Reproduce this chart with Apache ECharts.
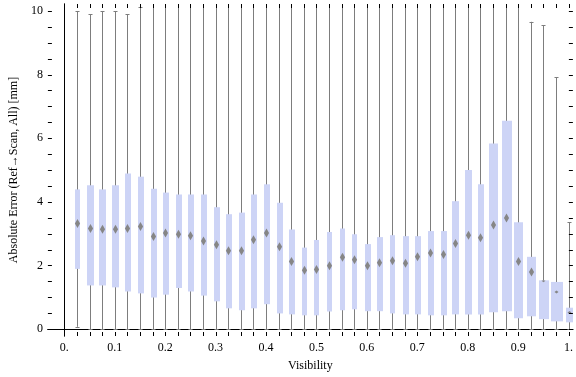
<!DOCTYPE html>
<html>
<head>
<meta charset="utf-8">
<script src="https://cdn.jsdelivr.net/npm/echarts@6.0.0/dist/echarts.min.js"></script>
<style>
  html, body { margin: 0; padding: 0; background: #fff; }
  #chart { width: 576px; height: 377px; }
</style>
</head>
<body>
<div id="chart"></div>
<script>
// visibility bins (box centres)
const visibility = [
  0.025, 0.05, 0.075, 0.1, 0.125, 0.15, 0.175, 0.2, 0.225, 0.25,
  0.275, 0.3, 0.325, 0.35, 0.375, 0.4, 0.425, 0.45, 0.475, 0.5,
  0.525, 0.55, 0.575, 0.6, 0.625, 0.65, 0.675, 0.7, 0.725, 0.75,
  0.775, 0.8, 0.825, 0.85, 0.875, 0.9, 0.925, 0.95, 0.975, 1.0
];
const whiskerLow = [
  0.07, 0, 0, 0, 0, 0, 0, 0, 0, 0,
  0, 0, 0, 0, 0, 0, 0, 0, 0, 0,
  0, 0, 0, 0, 0, 0, 0, 0, 0, 0,
  0, 0, 0, 0, 0, 0, 0, 0, 0, 0
];
const quartile1 = [
  1.89, 1.37, 1.37, 1.31, 1.18, 1.12, 0.99, 1.08, 1.29, 1.18,
  1.05, 0.87, 0.65, 0.59, 0.65, 0.78, 0.49, 0.46, 0.43, 0.43,
  0.55, 0.59, 0.62, 0.56, 0.56, 0.49, 0.46, 0.46, 0.43, 0.43,
  0.46, 0.46, 0.46, 0.53, 0.56, 0.34, 0.40, 0.31, 0.24, 0.21
];
const median = [
  3.32, 3.16, 3.14, 3.14, 3.16, 3.22, 2.91, 3.02, 2.98, 2.93,
  2.77, 2.65, 2.46, 2.46, 2.81, 3.02, 2.59, 2.12, 1.85, 1.87,
  1.99, 2.26, 2.18, 1.99, 2.08, 2.15, 2.07, 2.27, 2.39, 2.34,
  2.69, 2.95, 2.87, 3.27, 3.49, 2.12, 1.79, 1.52, 1.16, 0.52
];
const quartile3 = [
  4.39, 4.52, 4.39, 4.52, 4.89, 4.79, 4.41, 4.29, 4.23, 4.23,
  4.23, 3.83, 3.61, 3.66, 4.23, 4.55, 3.97, 3.13, 2.56, 2.80,
  3.05, 3.16, 2.98, 2.67, 2.89, 2.95, 2.92, 2.92, 3.08, 3.08,
  4.02, 5.00, 4.55, 5.83, 6.55, 3.36, 2.27, 1.53, 1.48, 0.67
];
// upper whiskers above 10.2 run off the top of the frame
const whiskerHigh = [
  10.0, 9.9, 10.0, 10.0, 9.9, 10.12, 10.5, 10.5, 10.5, 10.5,
  10.5, 10.5, 10.5, 10.5, 10.5, 10.5, 10.5, 10.5, 10.5, 10.5,
  10.5, 10.5, 10.5, 10.5, 10.5, 10.5, 10.5, 10.5, 10.5, 10.5,
  10.5, 10.5, 10.5, 10.5, 10.5, 10.5, 9.66, 9.55, 7.91, 3.36
];

const xTickLabels = [0, 0.1, 0.2, 0.3, 0.4, 0.5, 0.6, 0.7, 0.8, 0.9, 1];
const yTickLabels = [0, 2, 4, 6, 8, 10];

// drawing widths of the boxes in px (styling only)
const boxWidthPx = [
  5, 7, 7, 7, 6, 6, 6, 6, 6, 6,
  6, 6, 6, 6, 6, 6, 6, 6, 5, 5,
  5, 5, 5, 6, 6, 5, 6, 6, 6, 6,
  7, 7, 6, 9, 10, 9, 9, 10, 12, 7
];

const X_MIN = -0.0325, X_MAX = 1.0085;
const Y_MIN = -0.22, Y_MAX = 10.22;

const xFrameTicks = [];
for (let i = 0; i <= 40; i++) xFrameTicks.push(+(i * 0.025).toFixed(3));
const yFrameTicks = [];
for (let i = 0; i <= 20; i++) yFrameTicks.push(i * 0.5);

const boxData = visibility.map((v, i) =>
  [v, whiskerLow[i], quartile1[i], median[i], quartile3[i], whiskerHigh[i], i]);
// [value, kind] kind 0 = x tick, 1 = y tick
const tickData = xFrameTicks.map(v => [v, 0]).concat(yFrameTicks.map(v => [v, 1]));

const font = 'Liberation Serif';
const frameColor = '#000';
const whiskerColor = '#7d7d7d';
const boxColor = '#cdd4f6';
const dotColor = '#868686';
const TICK_LEN = 4;

function renderBox(params, api) {
  const x = api.value(0);
  const lo = api.value(1), q1 = api.value(2), md = api.value(3), q3 = api.value(4), hi = api.value(5);
  const idx = api.value(6);
  const cx = Math.round(api.coord([x, 0])[0]) + 0.5;
  const yLo = api.coord([x, lo])[1];
  const yHi = api.coord([x, Math.min(hi, Y_MAX)])[1];
  const yQ1 = api.coord([x, q1])[1];
  const yQ3 = api.coord([x, q3])[1];
  const yMd = api.coord([x, md])[1];
  const w = boxWidthPx[idx];
  const children = [];
  const lineStyle = { stroke: whiskerColor, lineWidth: 1 };
  children.push({ type: 'line', shape: { x1: cx, y1: yLo, x2: cx, y2: yHi }, style: lineStyle });
  children.push({ type: 'line', shape: { x1: cx - 2, y1: Math.round(yLo) + 0.5, x2: cx + 2, y2: Math.round(yLo) + 0.5 }, style: lineStyle });
  if (hi <= Y_MAX) {
    children.push({ type: 'line', shape: { x1: cx - 2, y1: Math.round(yHi) + 0.5, x2: cx + 2, y2: Math.round(yHi) + 0.5 }, style: lineStyle });
  }
  const left = Math.round(cx - w / 2);
  children.push({
    type: 'rect',
    shape: { x: left, y: yQ3, width: w, height: yQ1 - yQ3 },
    style: { fill: boxColor }
  });
  // diamond at the median, kept inside the box
  const dh = idx >= 37 ? 1.5 : 4.5;
  const dw = idx >= 37 ? 2 : 2.6;
  const top = Math.max(yMd - dh, yQ3);
  const bot = Math.min(yMd + dh, yQ1);
  children.push({
    type: 'polygon',
    shape: { points: [[cx, top], [cx + dw, yMd], [cx, bot], [cx - dw, yMd]] },
    style: { fill: dotColor }
  });
  return { type: 'group', children: children };
}

// inward-pointing frame ticks on all four sides
function renderTick(params, api) {
  const v = api.value(0);
  const kind = api.value(1);
  const st = { stroke: frameColor, lineWidth: 1 };
  if (kind === 0) {
    const px = Math.round(api.coord([v, Y_MIN])[0]) + 0.5;
    const yb = api.coord([v, Y_MIN])[1];
    const yt = api.coord([v, Y_MAX])[1];
    return { type: 'group', children: [
      { type: 'line', shape: { x1: px, y1: yb, x2: px, y2: yb - TICK_LEN }, style: st },
      { type: 'line', shape: { x1: px, y1: yt, x2: px, y2: yt + TICK_LEN }, style: st }
    ] };
  }
  const py = Math.round(api.coord([X_MIN, v])[1]) + 0.5;
  const xl = api.coord([X_MIN, v])[0];
  const xr = api.coord([X_MAX, v])[0];
  return { type: 'group', children: [
    { type: 'line', shape: { x1: xl, y1: py, x2: xl + TICK_LEN, y2: py }, style: st },
    { type: 'line', shape: { x1: xr, y1: py, x2: xr - TICK_LEN, y2: py }, style: st }
  ] };
}

const chart = echarts.init(document.getElementById('chart'), null, { renderer: 'canvas' });

const lineStyleFrame = { show: true, lineStyle: { color: frameColor, width: 1 } };

chart.setOption({
  animation: false,
  backgroundColor: '#fff',
  grid: { left: 37, right: 1, top: 4, bottom: 40 },
  xAxis: [
    {
      type: 'value', position: 'bottom', min: X_MIN, max: X_MAX,
      name: 'Visibility', nameLocation: 'middle', nameGap: 24,
      nameTextStyle: { fontFamily: font, fontSize: 12, color: '#000' },
      axisLine: lineStyleFrame,
      axisTick: { show: false },
      axisLabel: {
        customValues: xTickLabels, margin: 6,
        fontFamily: font, fontSize: 12, color: '#000',
        formatter: v => (v === 0 ? '0.' : v === 1 ? '1.' : v.toFixed(1))
      },
      splitLine: { show: false }
    },
    {
      type: 'value', position: 'top', min: X_MIN, max: X_MAX,
      axisLine: lineStyleFrame,
      axisTick: { show: false },
      axisLabel: { show: false },
      splitLine: { show: false }
    }
  ],
  yAxis: [
    {
      type: 'value', position: 'left', min: Y_MIN, max: Y_MAX,
      name: 'Absolute Error (Ref\u2192Scan, All) [mm]', nameLocation: 'middle', nameGap: 22,
      nameTextStyle: { fontFamily: font, fontSize: 12, color: '#000' },
      axisLine: lineStyleFrame,
      axisTick: { show: false },
      axisLabel: {
        customValues: yTickLabels, margin: 5,
        fontFamily: font, fontSize: 12, color: '#000'
      },
      splitLine: { show: false }
    },
    {
      type: 'value', position: 'right', min: Y_MIN, max: Y_MAX,
      axisLine: lineStyleFrame,
      axisTick: { show: false },
      axisLabel: { show: false },
      splitLine: { show: false }
    }
  ],
  series: [
    {
      type: 'custom',
      xAxisIndex: 0,
      yAxisIndex: 0,
      clip: true,
      renderItem: renderBox,
      encode: { x: 0, y: [1, 2, 3, 4, 5] },
      data: boxData,
      z: 1
    },
    {
      type: 'custom',
      xAxisIndex: 0,
      yAxisIndex: 0,
      clip: false,
      silent: true,
      renderItem: renderTick,
      encode: { x: -1, y: -1 },
      data: tickData,
      z: 5
    }
  ]
});
</script>
</body>
</html>
